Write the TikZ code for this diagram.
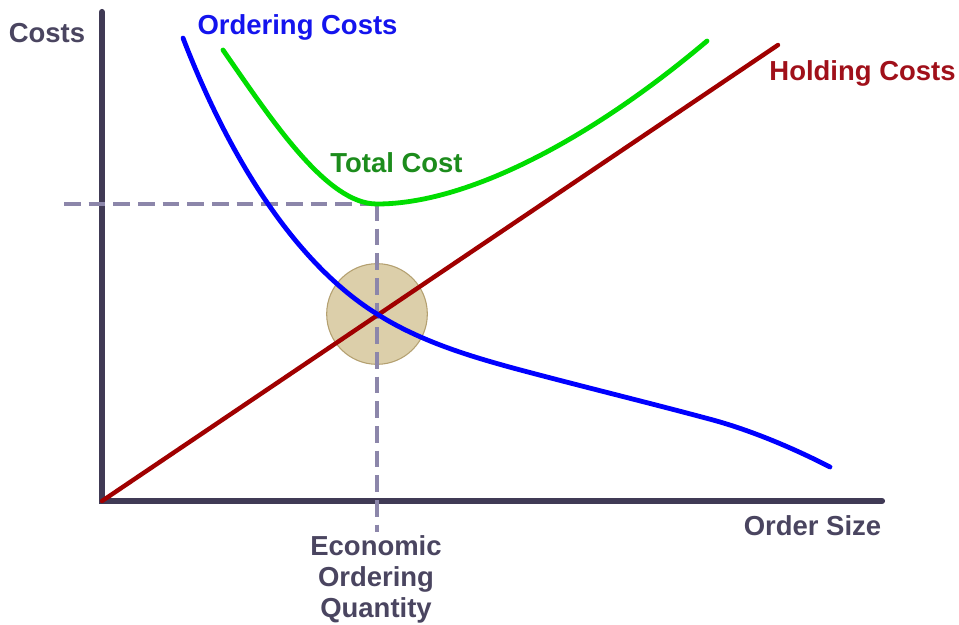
\documentclass[tikz,border=0pt]{standalone}
\usepackage{fontspec}
\setmainfont{Liberation Sans}
\definecolor{axisc}{HTML}{403A55}
\definecolor{dashc}{HTML}{8C86AA}
\definecolor{textc}{HTML}{4A4560}
\definecolor{ordc}{HTML}{0000FF}
\definecolor{ordtc}{HTML}{1414EE}
\definecolor{totc}{HTML}{00DD00}
\definecolor{tottc}{HTML}{1C8C1C}
\definecolor{holdc}{HTML}{A00000}
\definecolor{holdtc}{HTML}{A0101A}
\definecolor{circfill}{HTML}{DCCFAA}
\definecolor{circdraw}{HTML}{B4A070}
\begin{document}
\begin{tikzpicture}[x=0.75pt,y=-0.75pt,
  lbl/.style={font=\fontsize{20.6}{22.9}\selectfont\bfseries, inner sep=0pt},
  curve/.style={line width=3.6pt, line cap=round, line join=round},
  guide/.style={dashc, line width=2.6pt, dash pattern=on 12.5pt off 6pt}]
\useasboundingbox (0,0) rectangle (959,624);
\fill[white] (0,0) rectangle (959,624);
% coordinates
\coordinate (top) at (102,12);
\coordinate (o) at (102,501);
\coordinate (xend) at (882,501);
\coordinate (tmin) at (377,204);
\coordinate (ymark) at (64,204);
\coordinate (xmark) at (377,532);
\coordinate (hend) at (778,45);
\coordinate (ostart) at (183,38);
\coordinate (oend) at (830,467);
\coordinate (tstart) at (223,50);
\coordinate (tend) at (707,41);
% axes
\draw[axisc, line width=4.6pt, line cap=round, line join=miter] (top) -- (o) -- (xend);
% EOQ circle
\node[circle, fill=circfill, draw=circdraw, line width=0.8pt, minimum size=75.5pt, inner sep=0pt] (eoqc) at (377,314) {};
% guides
\draw[guide] (ymark) -- (tmin);
\draw[guide] (tmin) -- (xmark);
% holding costs
\draw[curve, holdc, line width=3.3pt] (o) -- (hend);
% ordering costs
\draw[curve, ordc] (ostart) .. controls (233,168) and (301,267) .. (eoqc.center)
  .. controls (421,342) and (473,357) .. (513,368)
  .. controls (580,386) and (650,403) .. (713,420)
  .. controls (753,431) and (795,449) .. (oend);
% total cost
\draw[curve, totc] (tstart) .. controls (273,122) and (327,204) .. (tmin)
  .. controls (467,204) and (590,140) .. (tend);
% labels
\node[lbl, text=textc, anchor=base] (costs) at (47,43) {Costs};
\node[lbl, text=ordtc, anchor=base] (ordl) at (297.5,35) {Ordering Costs};
\node[lbl, text=tottc, anchor=base] (totl) at (396.5,172) {Total Cost};
\node[lbl, text=holdtc, anchor=base] (holdl) at (862.5,81) {Holding Costs};
\node[lbl, text=textc, anchor=base] (ordsz) at (812.5,535) {Order Size};
\node[lbl, text=textc, anchor=base, align=center] (eoq) at (376,617) {Economic\\Ordering\\Quantity};
\end{tikzpicture}
\end{document}
